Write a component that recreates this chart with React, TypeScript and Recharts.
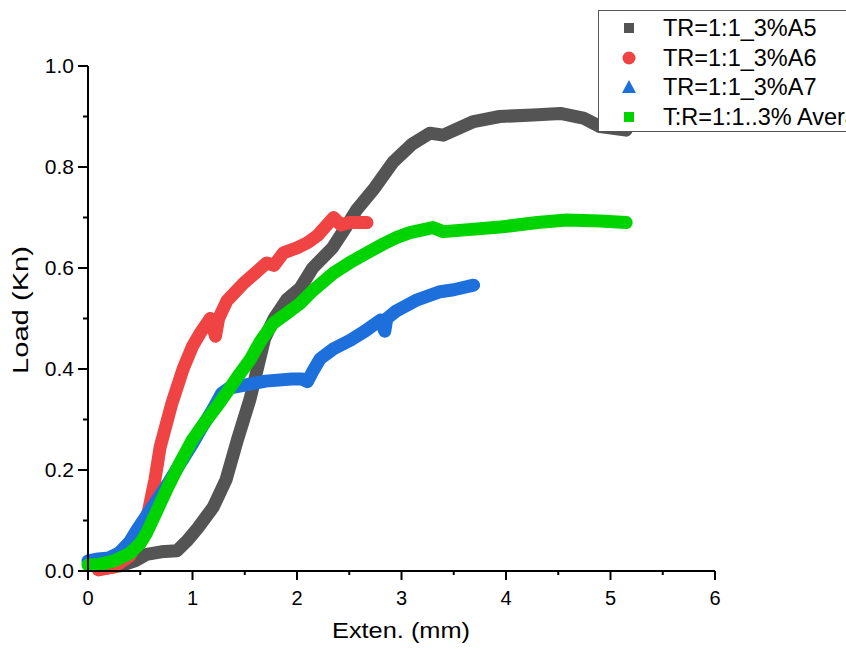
import { LineChart, Line, XAxis, YAxis, Legend } from "recharts";

// extension (mm) / load (kN)
const a5X = [0.15, 0.3, 0.45, 0.56, 0.7, 0.85, 0.95, 1.05, 1.2, 1.32, 1.43, 1.55, 1.62, 1.69, 1.78, 1.9, 2.03, 2.15, 2.34, 2.45, 2.57, 2.73, 2.92, 3.1, 3.27, 3.4, 3.69, 3.94, 4.26, 4.52, 4.74, 4.9, 5.15];
const a5Y = [0.005, 0.01, 0.02, 0.033, 0.038, 0.04, 0.06, 0.085, 0.127, 0.18, 0.26, 0.34, 0.4, 0.46, 0.5, 0.537, 0.56, 0.6, 0.64, 0.675, 0.715, 0.755, 0.81, 0.845, 0.867, 0.863, 0.89, 0.9, 0.903, 0.906, 0.897, 0.88, 0.873];

const a6X = [0.1, 0.25, 0.4, 0.5, 0.58, 0.64, 0.69, 0.8, 0.91, 1.0, 1.07, 1.17, 1.22, 1.25, 1.33, 1.49, 1.6, 1.71, 1.78, 1.87, 2.0, 2.1, 2.2, 2.35, 2.42, 2.5, 2.67];
const a6Y = [0.002, 0.008, 0.03, 0.07, 0.12, 0.18, 0.245, 0.33, 0.4, 0.445, 0.47, 0.5, 0.465, 0.5, 0.535, 0.57, 0.59, 0.61, 0.605, 0.63, 0.64, 0.65, 0.665, 0.7, 0.685, 0.69, 0.69];

const a7X = [0, 0.1, 0.2, 0.3, 0.4, 0.47, 0.6, 0.75, 0.88, 1.0, 1.1, 1.2, 1.28, 1.35, 1.5, 1.7, 1.95, 2.05, 2.1, 2.15, 2.22, 2.35, 2.51, 2.65, 2.8, 2.84, 2.86, 2.95, 3.15, 3.37, 3.5, 3.69];
const a7Y = [0.02, 0.024, 0.026, 0.036, 0.058, 0.082, 0.122, 0.168, 0.212, 0.252, 0.288, 0.322, 0.352, 0.362, 0.368, 0.376, 0.38, 0.38, 0.375, 0.395, 0.42, 0.44, 0.457, 0.475, 0.497, 0.475, 0.5, 0.515, 0.537, 0.553, 0.557, 0.566];

const avgX = [0, 0.11, 0.25, 0.4, 0.5, 0.56, 0.65, 0.75, 0.87, 1.0, 1.12, 1.23, 1.35, 1.45, 1.55, 1.65, 1.77, 1.9, 2.03, 2.15, 2.35, 2.5, 2.67, 2.83, 2.95, 3.08, 3.3, 3.4, 3.7, 3.94, 4.3, 4.58, 4.9, 5.15];
const avgY = [0.012, 0.013, 0.02, 0.035, 0.055, 0.075, 0.115, 0.16, 0.21, 0.26, 0.295, 0.325, 0.36, 0.39, 0.418, 0.455, 0.49, 0.51, 0.53, 0.555, 0.59, 0.61, 0.63, 0.648, 0.66, 0.67, 0.68, 0.672, 0.677, 0.681, 0.69, 0.695, 0.693, 0.69];

const seriesNames = ["TR=1:1_3%A5", "TR=1:1_3%A6", "TR=1:1_3%A7", "T:R=1:1..3% Average"];
const seriesColors = ["#545454", "#F04343", "#1D6FDC", "#00D400"];
const seriesShapes = ["square", "circle", "triangle", "square"];

const xTicks = [0, 0.5, 1, 1.5, 2, 2.5, 3, 3.5, 4, 4.5, 5, 5.5, 6];
const yTicks = [0, 0.1, 0.2, 0.3, 0.4, 0.5, 0.6, 0.7, 0.8, 0.9, 1.0];

const zip = (xs: number[], ys: number[]) => xs.map((x, i) => ({ x, y: ys[i] }));
const series = [zip(a5X, a5Y), zip(a6X, a6Y), zip(a7X, a7Y), zip(avgX, avgY)];

const font = "'Liberation Sans', Arial, sans-serif";

const XTick = (props: any) => {
  const { x, y, payload } = props;
  const major = Number.isInteger(payload.value);
  return (
    <g>
      <line x1={x} x2={x} y1={y} y2={y + (major ? 9 : 4)} stroke="#000" strokeWidth={2} />
      {major && (
        <text x={x} y={y + 34} textAnchor="middle" fontSize={20} fontFamily={font} fill="#000">
          {payload.value}
        </text>
      )}
    </g>
  );
};

const YTick = (props: any) => {
  const { x, y, payload } = props;
  const major = Math.round(payload.value * 10) % 2 === 0;
  return (
    <g>
      <line x1={x - (major ? 10 : 5)} x2={x} y1={y} y2={y} stroke="#000" strokeWidth={2} />
      {major && (
        <text x={x - 14} y={y + 7} textAnchor="end" fontSize={21} fontFamily={font} fill="#000">
          {payload.value.toFixed(1)}
        </text>
      )}
    </g>
  );
};

const Marker = ({ shape, color }: { shape: string; color: string }) => (
  <svg width={16} height={16} style={{ position: "absolute", left: 22, top: -8 }}>
    {shape === "square" && <rect x={3} y={3} width={10} height={10} fill={color} />}
    {shape === "circle" && <circle cx={8} cy={8} r={6.5} fill={color} />}
    {shape === "triangle" && <polygon points="8,1 15,14 1,14" fill={color} />}
  </svg>
);

const renderLegend = () => (
  <div
    style={{
      position: "relative",
      width: 300,
      height: 120,
      border: "1.5px solid #555",
      background: "#fff",
      fontFamily: font,
      fontSize: 23.5,
      color: "#000",
    }}
  >
    {seriesNames.map((name, i) => (
      <div key={name} style={{ position: "absolute", left: 0, top: 17 + i * 29.5, height: 0 }}>
        <Marker shape={seriesShapes[i]} color={seriesColors[i]} />
        <span style={{ position: "absolute", left: 64, top: -14, whiteSpace: "nowrap", lineHeight: "28px" }}>{name}</span>
      </div>
    ))}
  </div>
);

export default function App() {
  return (
    <div style={{ position: "absolute", left: 0, top: 0, width: 846, height: 653, overflow: "hidden", background: "#fff" }}>
      <LineChart width={846} height={653} margin={{ top: 66, right: 131, bottom: 32, left: 0 }}>
        <XAxis
          type="number"
          dataKey="x"
          domain={[0, 6]}
          ticks={xTicks}
          interval={0}
          height={50}
          tickSize={0}
          tickMargin={0}
          tick={<XTick />}
          axisLine={{ stroke: "#000", strokeWidth: 2 }}
          allowDuplicatedCategory={false}
        />
        <YAxis
          type="number"
          dataKey="y"
          domain={[0, 1]}
          ticks={yTicks}
          interval={0}
          width={88}
          tickSize={0}
          tickMargin={0}
          tick={<YTick />}
          axisLine={{ stroke: "#000", strokeWidth: 2 }}
        />
        {series.map((d, i) => (
          <Line
            key={seriesNames[i]}
            data={d}
            dataKey="y"
            name={seriesNames[i]}
            type="linear"
            stroke={seriesColors[i]}
            strokeWidth={13}
            strokeLinejoin="round"
            strokeLinecap="round"
            dot={false}
            activeDot={false}
            isAnimationActive={false}
          />
        ))}
        <Legend
          layout="vertical"
          align="center"
          verticalAlign="middle"
          content={renderLegend}
          wrapperStyle={{ position: "absolute", left: 598, top: 10, width: 300, height: 120, bottom: "auto", right: "auto" }}
        />
      </LineChart>
      <svg width={846} height={653} style={{ position: "absolute", left: 0, top: 0, pointerEvents: "none" }}>
        <text x={401} y={638} textAnchor="middle" fontSize={22} fontFamily={font} textLength={138} lengthAdjust="spacingAndGlyphs">
          Exten. (mm)
        </text>
        <text
          x={0}
          y={0}
          transform="translate(28 310) rotate(-90)"
          textAnchor="middle"
          fontSize={22}
          fontFamily={font}
          textLength={128}
          lengthAdjust="spacingAndGlyphs"
        >
          Load (Kn)
        </text>
      </svg>
    </div>
  );
}
